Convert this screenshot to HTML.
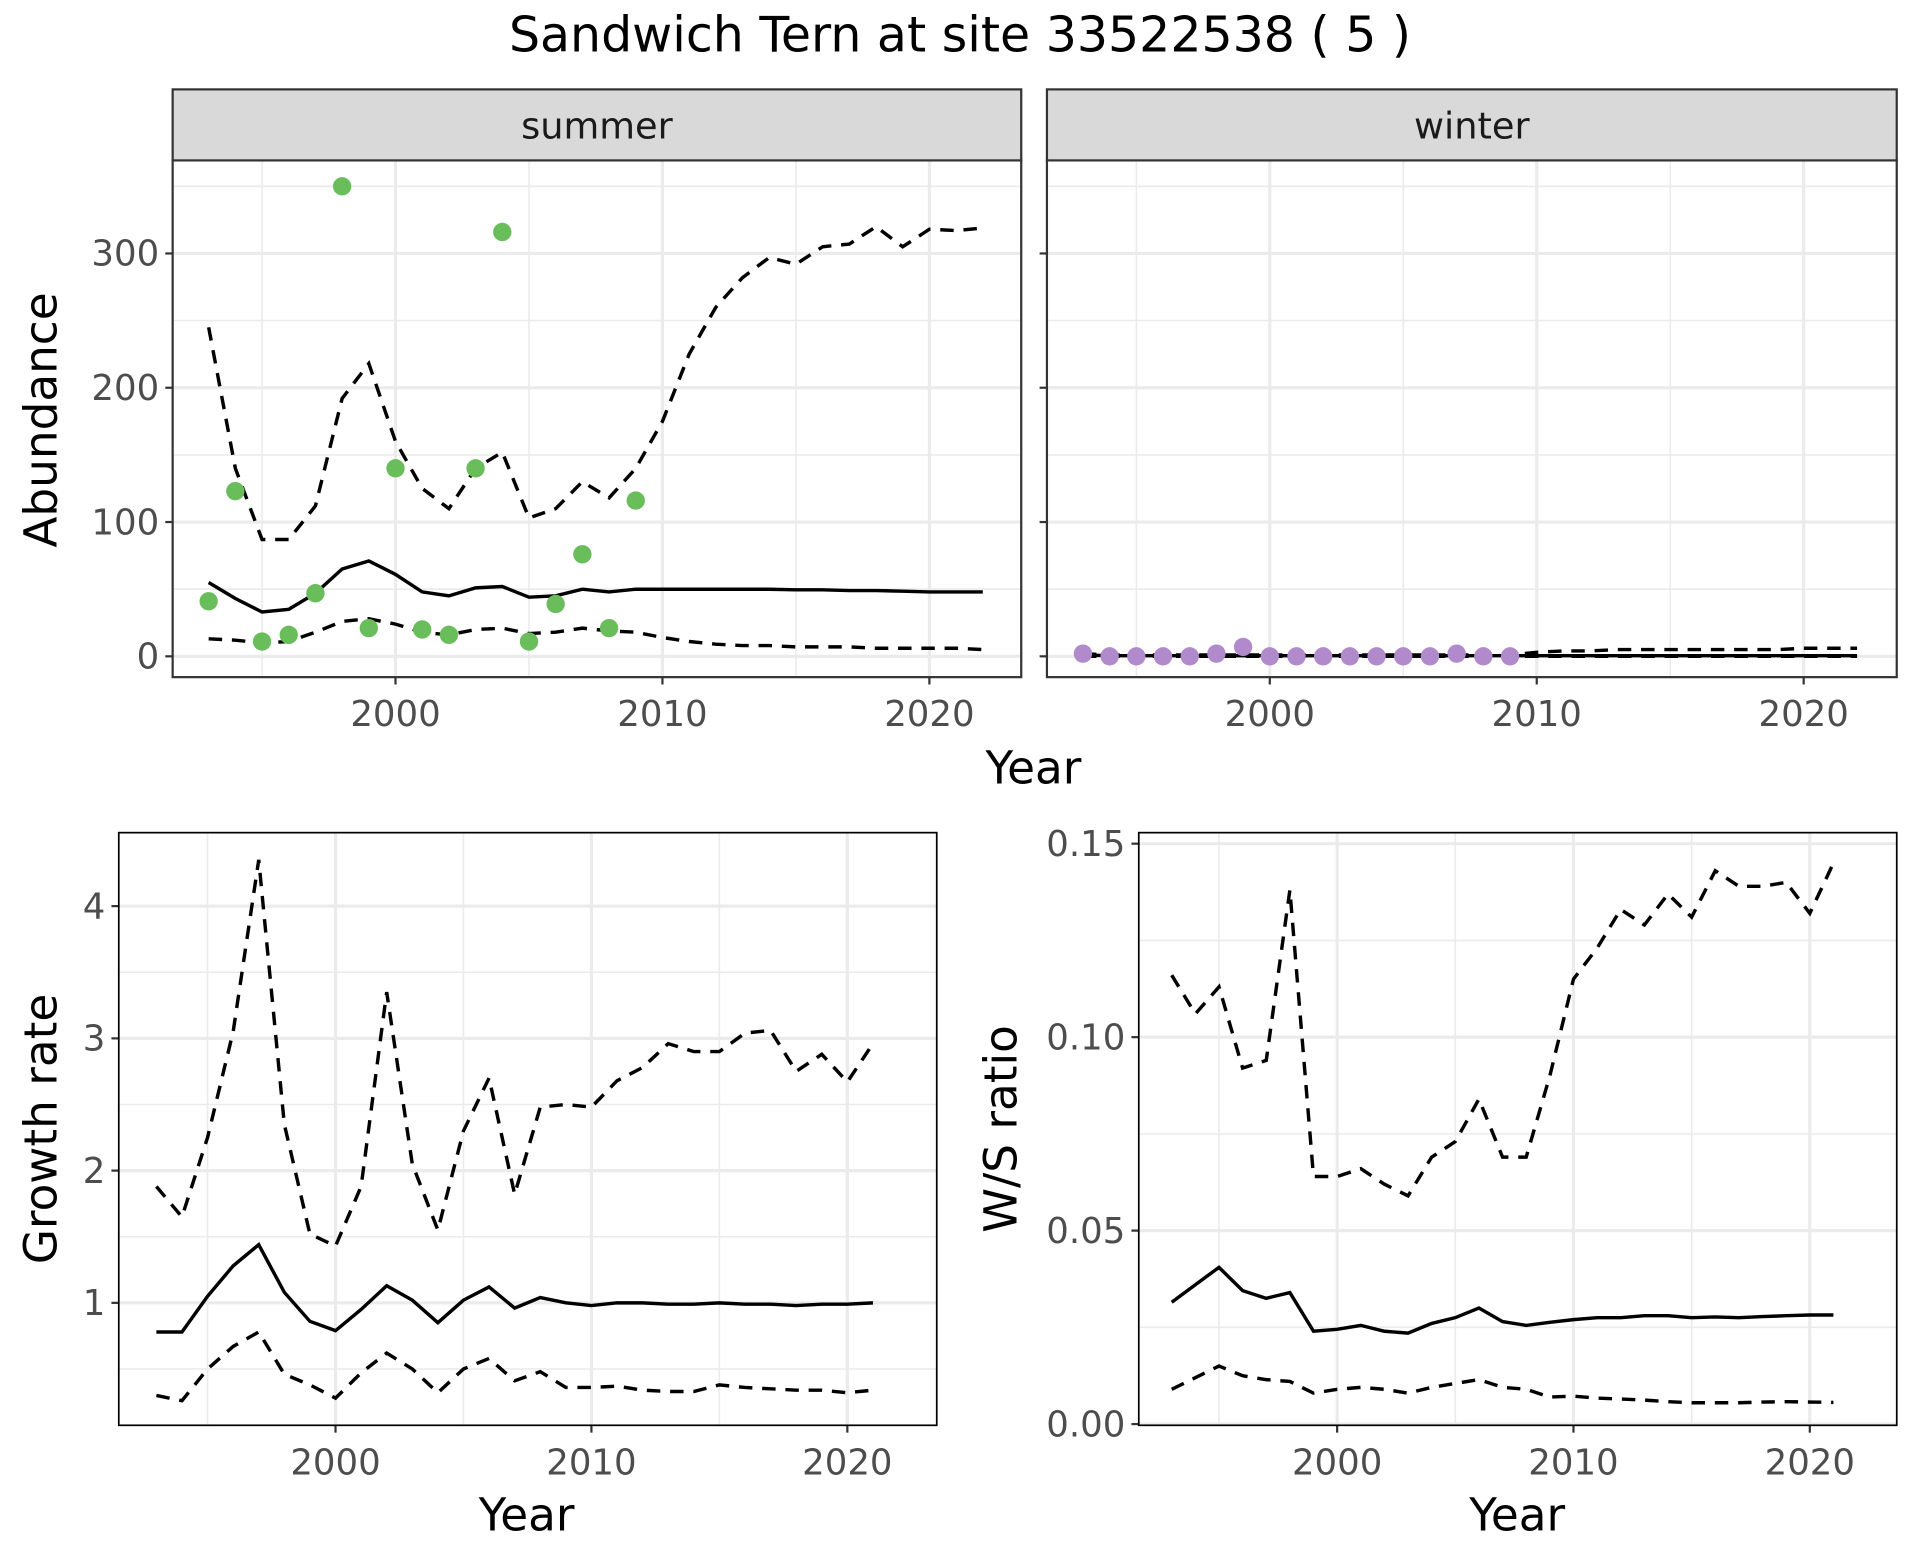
<!DOCTYPE html>
<html><head><meta charset="utf-8"><style>
html,body{margin:0;padding:0;background:#fff;}
svg{display:block;font-family:"DejaVu Sans","Liberation Sans",sans-serif;}
</style></head><body>
<svg id="chart" width="1920" height="1560" viewBox="0 0 1568 1274" xmlns="http://www.w3.org/2000/svg">
<text x="784" y="42" text-anchor="middle" font-size="40" fill="#000">Sandwich Tern at site 33522538 ( 5 )</text>
</svg>
<script>
const years = [1993,1994,1995,1996,1997,1998,1999,2000,2001,2002,2003,2004,2005,2006,2007,2008,2009,2010,2011,2012,2013,2014,2015,2016,2017,2018,2019,2020,2021,2022];
const summerPointYears = [1993,1994,1995,1996,1997,1998,1999,2000,2001,2002,2003,2004,2005,2006,2007,2008,2009];
const summerPoints = [41,123,11,16,47,350,21,140,20,16,140,316,11,39,76,21,116];
const summerMid = [55,43,33,35,47,65,71,61,48,45,51,52,44,45,50,48,50,50,50,50,50,50,49.5,49.5,49,49,48.5,48,48,48];
const summerUpper = [245,140,87,87,112,192,218,160,125,110,140,152,103,110,130,118,140,175,225,260,282,297,292,305,307,320,305,318,317,319];
const summerLower = [13,12,10,11,18,26,28,24,18,16,20,21,17,18,21,19,18,14,11,9,8,8,7,7,7,6,6,6,6,5];
const winterPoints = [2,0,0,0,0,2,7,0,0,0,0,0,0,0,2,0,0];
const winterMid = [1,0.5,0.5,0.5,0.5,0.5,0.5,0.5,0.5,0.5,0.5,0.5,0.5,0.5,0.5,0.5,0.5,0.5,0.5,0.5,0.5,0.5,0.5,0.5,0.5,0.5,0.5,0.5,0.5,0.5];
const winterUpper = [2,1,1,1,1,1,1,1,1,1,1,1,1,1,1,1,1,3,4,4,5,5,5,5,5,5,5,6,6,6];
const winterLower = [0,0,0,0,0,0,0,0,0,0,0,0,0,0,0,0,0,0,0,0,0,0,0,0,0,0,0,0,0,0];
const grYears = [1993,1994,1995,1996,1997,1998,1999,2000,2001,2002,2003,2004,2005,2006,2007,2008,2009,2010,2011,2012,2013,2014,2015,2016,2017,2018,2019,2020,2021];
const grMid = [0.78,0.78,1.05,1.28,1.44,1.08,0.86,0.79,0.95,1.13,1.02,0.85,1.02,1.12,0.96,1.04,1.0,0.98,1.0,1.0,0.99,0.99,1.0,0.99,0.99,0.98,0.99,0.99,1.0];
const grUpper = [1.88,1.65,2.25,3.05,4.35,2.35,1.52,1.43,1.88,3.35,2.05,1.55,2.3,2.7,1.82,2.48,2.5,2.48,2.68,2.78,2.96,2.9,2.9,3.04,3.06,2.75,2.88,2.67,2.96];
const grLower = [0.3,0.26,0.5,0.67,0.78,0.46,0.38,0.28,0.47,0.62,0.5,0.32,0.5,0.58,0.41,0.48,0.36,0.36,0.37,0.34,0.33,0.33,0.38,0.36,0.35,0.34,0.34,0.32,0.34];
const wsMid = [0.0315,0.036,0.0405,0.0345,0.0325,0.034,0.024,0.0245,0.0255,0.024,0.0235,0.026,0.0275,0.030,0.0265,0.0255,0.0263,0.027,0.0275,0.0275,0.028,0.028,0.0275,0.0277,0.0275,0.0278,0.028,0.0282,0.0282];
const wsUpper = [0.116,0.106,0.113,0.092,0.094,0.138,0.064,0.064,0.066,0.062,0.059,0.069,0.073,0.084,0.069,0.069,0.09,0.115,0.123,0.133,0.129,0.137,0.131,0.143,0.139,0.139,0.14,0.132,0.145];
const wsLower = [0.009,0.012,0.015,0.0125,0.0115,0.011,0.008,0.009,0.0095,0.009,0.008,0.0095,0.0105,0.0115,0.0095,0.009,0.007,0.0072,0.0067,0.0065,0.0062,0.0058,0.0055,0.0055,0.0055,0.0057,0.0058,0.0057,0.0056];
const xTicks = [2000,2010,2020];
const xMinor = [1995,2005,2015];
const abTicks = [0,100,200,300];
const abMinor = [50,150,250,350];
const grTicks = [1,2,3,4];
const grTickLabels = ["1","2","3","4"];
const grMinor = [0.5,1.5,2.5,3.5];
const wsTicks = [0,0.05,0.1,0.15];
const wsTickLabels = ["0.00","0.05","0.10","0.15"];
const wsMinor = [0.025,0.075,0.125];

const svg = document.getElementById('chart');
const NS = 'http://www.w3.org/2000/svg';
function mk(tag, attrs, parent){const e=document.createElementNS(NS,tag);for(const k in attrs)e.setAttribute(k,attrs[k]);(parent||svg).appendChild(e);return e;}

function panel(name, L, R, T, B, xs, ys, yT, yLabels, yMin, xLabels, showY){
  const g = mk('g',{});
  
  
  mk('rect',{x:L,y:T,width:R-L,height:B-T,fill:'#fff'},g);
  yMin.forEach(v=>{const y=ys(v); if(y>T&&y<B) mk('line',{x1:L,x2:R,y1:y,y2:y,stroke:'#EBEBEB','stroke-width':1.3},g);});
  xMinor.forEach(v=>{const x=xs(v); mk('line',{x1:x,x2:x,y1:T,y2:B,stroke:'#EBEBEB','stroke-width':1.3},g);});
  yT.forEach(v=>{const y=ys(v); mk('line',{x1:L,x2:R,y1:y,y2:y,stroke:'#EBEBEB','stroke-width':2.6},g);});
  xTicks.forEach(v=>{const x=xs(v); mk('line',{x1:x,x2:x,y1:T,y2:B,stroke:'#EBEBEB','stroke-width':2.6},g);});
  xTicks.forEach(v=>{const x=xs(v);
    mk('line',{x1:x,x2:x,y1:B,y2:B+6,stroke:'#333','stroke-width':1.8},g);
    const t=mk('text',{x:x,y:B+40,'text-anchor':'middle','font-size':29,fill:'#4D4D4D'},g);
    
    
    t.textContent=v;});
  yT.forEach((v,i)=>{const y=ys(v);
    mk('line',{x1:L-6,x2:L,y1:y,y2:y,stroke:'#333','stroke-width':1.8},g);
    if(showY){const t=mk('text',{x:L-11,y:y+10,'text-anchor':'end','font-size':29,fill:'#4D4D4D'},g);
      
      
      t.textContent=yLabels[i];}});
  return g;
}
function line(g, name, xsArr, vals, xs, ys, dashed){
  const d = vals.map((v,i)=>(i?'L':'M')+xs(xsArr[i]).toFixed(1)+','+ys(v).toFixed(1)).join(' ');
  const p = mk('path',{d:d,fill:'none',stroke:'#000','stroke-width':2.8,'stroke-dasharray':dashed?'11,8':'none'},g);
  
  
}
function border(g,L,R,T,B,full){
  if(full) mk('rect',{x:L,y:T,width:R-L,height:B-T,fill:'none',stroke:'#333','stroke-width':1.8},g);
  else mk('rect',{x:L,y:T,width:R-L,height:B-T,fill:'none',stroke:'#000','stroke-width':1.4},g);
}

const aT=131,aB=553;
const abY = v=>536 - v*1.0967;
const tops=[{n:'summer',L:141,R:834,x2000:323,pts:summerPoints,mid:summerMid,up:summerUpper,lo:summerLower,col:'#6ABD5B',y:true},
            {n:'winter',L:855,R:1549,x2000:1037,pts:winterPoints,mid:winterMid,up:winterUpper,lo:winterLower,col:'#B18ACB',y:false}];
tops.forEach(p=>{
  const xs=v=>p.x2000+(v-2000)*21.8;
  const g=panel(p.n+'-panel',p.L,p.R,aT,aB,xs,abY,abTicks,abTicks.map(String),abMinor,true,p.y);
  line(g,p.n+'-upper-line',years,p.up,xs,abY,true);
  line(g,p.n+'-lower-line',years,p.lo,xs,abY,true);
  line(g,p.n+'-mid-line',years,p.mid,xs,abY,false);
  p.pts.forEach((v,i)=>{const c=mk('circle',{cx:xs(summerPointYears[i]),cy:abY(v),r:7.5,fill:p.col},g);
    
    });
  border(g,p.L,p.R,aT,aB,true);
  const s=mk('rect',{x:p.L,y:73,width:p.R-p.L,height:58,fill:'#D9D9D9',stroke:'#333','stroke-width':1.8},g);
  
  
  const st=mk('text',{x:(p.L+p.R)/2,y:113,'text-anchor':'middle','font-size':30,fill:'#1A1A1A'},g);
  
  
  st.textContent=p.n;
});
function label(txt,x,y,rot,name){const t=mk('text',{x:x,y:y,'text-anchor':'middle','font-size':37,fill:'#000',transform:rot?`rotate(-90 ${x} ${y})`:''});
  
  
  t.textContent=txt;}
label('Year',844,640,false,'x-axis-title-top');
label('Abundance',46,343,true,'y-axis-title-abundance');

{const L=97,R=765,T=680,B=1164;
 const xs=v=>274+(v-2000)*20.9, ys=v=>1064-(v-1)*108;
 const g=panel('growth-panel',L,R,T,B,xs,ys,grTicks,grTickLabels,grMinor,true,true);
 line(g,'growth-upper-line',grYears,grUpper,xs,ys,true);
 line(g,'growth-lower-line',grYears,grLower,xs,ys,true);
 line(g,'growth-mid-line',grYears,grMid,xs,ys,false);
 border(g,L,R,T,B,false);
 label('Year',430,1250,false,'x-axis-title-growth');
 label('Growth rate',46,922,true,'y-axis-title-growth');}
{const L=930,R=1549,T=680,B=1164;
 const xs=v=>1092+(v-2000)*19.3, ys=v=>1163-v*3160;
 const g=panel('ws-panel',L,R,T,B,xs,ys,wsTicks,wsTickLabels,wsMinor,true,true);
 line(g,'ws-upper-line',grYears,wsUpper,xs,ys,true);
 line(g,'ws-lower-line',grYears,wsLower,xs,ys,true);
 line(g,'ws-mid-line',grYears,wsMid,xs,ys,false);
 border(g,L,R,T,B,false);
 label('Year',1239,1250,false,'x-axis-title-ws');
 label('W/S ratio',830,922,true,'y-axis-title-ws');}
</script>
</body></html>
